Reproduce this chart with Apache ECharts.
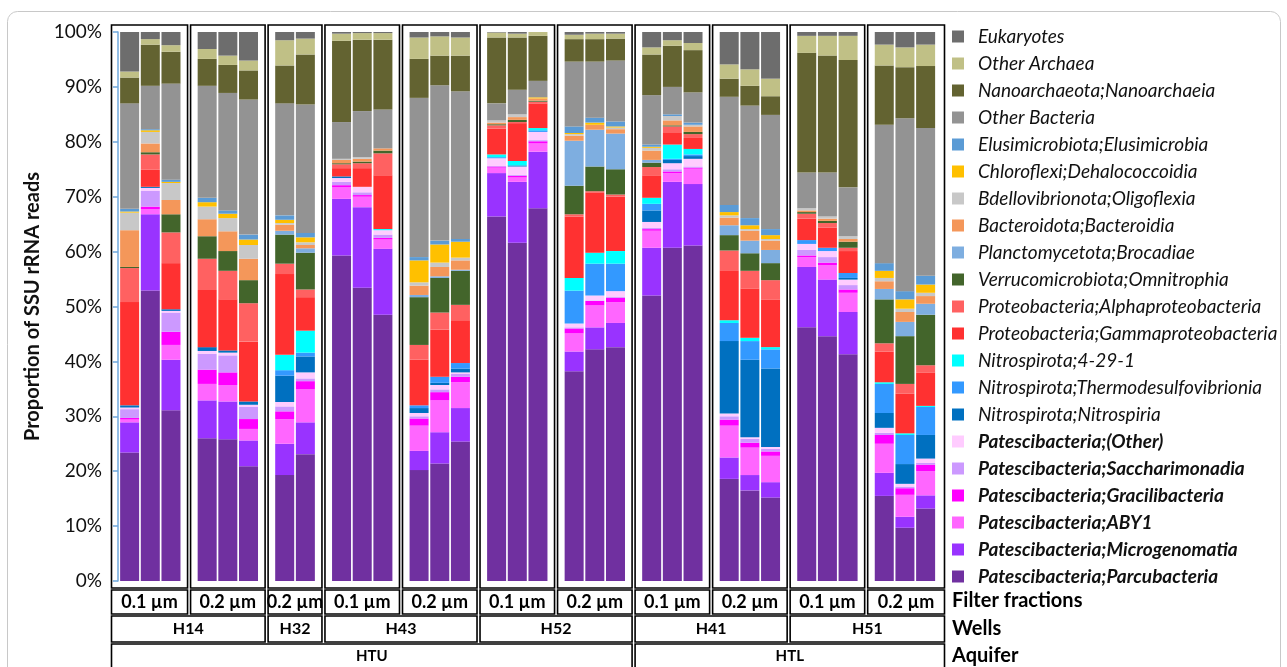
<!DOCTYPE html>
<html><head><meta charset="utf-8">
<script src="https://cdn.jsdelivr.net/npm/echarts@6/dist/echarts.min.js"></script>
<style>html,body{margin:0;padding:0;background:#fff}#c{width:1287px;height:667px}</style>
</head><body><div id="c"></div>
<script>
// ---- DATA (bars: H14 0.1 x3, H14 0.2 x3, H32 0.2 x2, H43 0.1 x3, H43 0.2 x3, H52 0.1 x3, H52 0.2 x3, H41 0.1 x3, H41 0.2 x3, H51 0.1 x3, H51 0.2 x3)
const filterLabels = ['0.1 µm','0.2 µm','0.2 µm','0.1 µm','0.2 µm','0.1 µm','0.2 µm','0.1 µm','0.2 µm','0.1 µm','0.2 µm'];
const groupSizes = [3,3,2,3,3,3,3,3,3,3,3];
const wells = ['H14','H32','H43','H52','H41','H51'];
const wellSpans = [2,1,2,2,2,2];
const aquifers = ['HTU','HTL'];
const aquiferSpans = [7,4];

const parcubacteria = [23.4,52.9,31.1, 26.0,25.8,20.9, 19.3,23.1, 59.3,53.4,48.5, 20.2,21.4,25.4, 66.4,61.6,67.9, 38.2,42.2,42.6, 52.0,60.7,61.1, 18.6,16.5,15.2, 46.2,44.6,41.3, 15.5,9.7,13.2];
const microgenomatia = [5.5,13.9,9.2, 6.9,6.9,4.7, 5.7,5.8, 10.3,14.7,12.0, 3.5,5.7,6.1, 7.9,11.1,10.3, 3.6,4.0,4.4, 8.7,12.0,11.2, 3.9,2.8,2.8, 11.0,10.3,7.7, 4.2,2.0,2.4];
const aby1 = [0.5,0.9,2.7, 3.0,3.0,2.1, 4.5,6.0, 2.1,1.9,1.7, 4.6,5.8,4.7, 1.0,0.8,1.5, 3.3,4.0,3.8, 3.1,1.6,2.8, 5.8,5.0,4.8, 1.8,2.6,3.5, 5.3,4.0,4.4];
const gracilibacteria = [0.3,0.5,2.4, 2.6,2.3,1.8, 1.4,1.5, 0.4,0.3,0.3, 1.3,1.5,1.0, 0.2,0.3,0.4, 0.9,0.8,0.8, 0.3,0.3,0.2, 1.1,0.9,0.8, 0.3,0.5,0.6, 1.6,1.2,1.2];
const saccharimonadia = [1.6,2.9,3.5, 2.9,3.1,2.2, 0.9,0.5, 0.6,0.5,0.6, 0.4,0.5,0.5, 0.1,0.2,0.2, 0.2,0.1,0.2, 0.2,0.4,0.2, 0.6,0.7,0.5, 1.0,1.0,0.8, 0.4,0.3,0.3];
const patesciOther = [0.3,0.5,0.3, 0.5,0.5,0.4, 0.8,1.1, 0.7,1.0,0.8, 0.6,0.8,0.3, 1.4,1.5,1.5, 0.7,0.9,1.0, 1.1,1.1,1.4, 0.5,0.3,0.3, 1.1,1.1,1.0, 0.9,0.5,0.8];
const nitrospiria = [0.4,0.2,0.3, 0.7,0.4,0.6, 4.8,2.9, 0.3,0,0, 0.9,0.4,0.7, 0,0.2,0, 0,0,0, 2.1,0.6,0.5, 13.2,14.1,14.3, 0,0,0.3, 2.7,3.6,4.3];
const thermodesulfovibrionia = [0,0,0, 0,0,0, 1.0,0.7, 0,0,0, 0.5,1.1,1.0, 0.2,0,0.3, 6.0,5.8,5.0, 1.2,0.2,0.3, 3.3,3.4,3.5, 0.7,0.6,0.9, 5.3,5.3,5.1];
const nitro4291 = [0,0,0, 0,0,0, 2.8,4.0, 0,0,0.2, 0,0,0, 0.5,0.8,0.4, 2.3,2.0,2.3, 1.1,2.6,1.0, 0.5,0.6,0.4, 0,0,0, 0.3,0.3,0.2];
const gammaproteobacteria = [18.8,3.1,8.4, 10.4,9.3,10.9, 14.7,6.1, 1.5,3.4,9.8, 8.3,8.6,7.8, 4.7,6.9,4.5, 11.2,10.9,9.9, 4.1,2.1,2.0, 9.1,9.0,8.7, 3.9,3.7,4.0, 5.6,7.2,6.1];
const alphaproteobacteria = [6.2,2.8,5.6, 5.7,5.2,7.0, 1.9,1.4, 0.7,0.9,4.0, 2.7,3.1,2.8, 0.6,0.2,0.3, 0.4,0.3,0.4, 1.5,1.2,0.7, 3.6,3.2,3.5, 0.9,0.8,0.6, 1.5,1.8,1.3];
const omnitrophia = [0.2,0.4,3.3, 4.1,3.6,4.2, 5.3,6.7, 0.2,0.3,0.5, 8.7,6.3,6.2, 0.2,0.4,0.2, 5.2,4.5,4.6, 0.8,0.2,0.4, 2.8,3.2,3.1, 0.3,0.4,1.1, 8.0,8.7,9.2];
const brocadiae = [0,0,0, 0,0,0, 0.7,0.8, 0,0,0, 0.4,0.3,0.2, 0,0,0, 8.2,6.7,6.5, 0.5,0,0, 1.8,2.3,2.4, 0,0,0, 1.9,2.6,2.0];
const bacteroidia = [6.7,1.6,2.6, 3.1,3.6,3.9, 1.1,0.6, 0.6,0.5,0.4, 1.7,1.7,1.7, 0.3,0.5,0.4, 0.9,0.9,0.8, 1.7,0.9,1.0, 1.4,1.8,1.7, 0.3,0.4,0.5, 1.4,1.8,1.4];
const oligoflexia = [3.2,2.1,3.1, 2.3,2.4,2.5, 0.3,0.5, 0.2,0.3,0, 0.6,0.8,0.5, 0.4,0.5,0, 0.3,0,0.3, 0.5,0.8,0.3, 0.4,0.3,0.3, 0.4,0.4,0.5, 0.6,0.6,0.6];
const dehalococcoidia = [0.2,0.3,0.2, 0.8,0.8,1.0, 0.6,0.9, 0,0,0, 4.0,3.3,2.9, 0,0,0.2, 0.2,0.4,0.2, 0.2,0,0, 0.6,0.7,0.7, 0,0,0, 1.3,1.7,1.5];
const elusimicrobia = [0.5,0.2,0.4, 0.8,0.6,0.9, 0.8,0.8, 0,0,0, 0.6,0.7,0.5, 0,0,0, 1.2,0.9,0.9, 0.4,0.3,0.4, 1.3,1.3,1.1, 0,0,0, 1.4,1.5,1.6];
const otherBacteria = [19.2,7.9,17.5, 20.4,21.4,24.6, 20.4,23.4, 6.7,8.4,7.1, 29.0,28.3,26.9, 3.1,4.5,3.0, 11.8,10.2,11.1, 9.0,5.0,5.5, 19.7,20.5,20.8, 6.5,8.0,8.9, 25.2,31.5,26.9];
const nanoarchaeia = [4.7,7.5,5.8, 4.9,5.1,5.3, 6.9,9.1, 14.8,13.0,12.7, 7.1,5.4,6.5, 12.0,9.5,8.2, 4.1,4.1,4.0, 7.4,7.5,7.7, 3.3,3.6,3.4, 21.8,21.3,23.2, 10.8,9.3,11.3];
const otherArchaea = [1.1,1.0,1.2, 1.8,1.7,1.8, 4.6,2.9, 1.3,1.2,1.2, 3.9,3.5,3.3, 0.9,0.7,0.7, 0.8,1.0,0.9, 1.3,1.0,1.3, 2.6,3.0,3.2, 3.1,3.6,4.4, 3.8,3.6,3.9];
const eukaryotes = [7.2,1.3,2.4, 3.1,4.3,5.2, 1.5,1.2, 0.3,0.2,0.2, 1.0,0.8,1.0, 0.1,0.3,0, 0.5,0.3,0.3, 2.8,1.5,2.0, 5.9,6.8,8.5, 0.7,0.7,0.7, 2.3,2.8,2.3];

// ---- series definitions (bottom to top)
const taxa = [
  ['Patescibacteria;Parcubacteria', parcubacteria, '#7030a0', true],
  ['Patescibacteria;Microgenomatia', microgenomatia, '#9933ff', true],
  ['Patescibacteria;ABY1', aby1, '#ff66ff', true],
  ['Patescibacteria;Gracilibacteria', gracilibacteria, '#ff00ff', true],
  ['Patescibacteria;Saccharimonadia', saccharimonadia, '#cc99ff', true],
  ['Patescibacteria;(Other)', patesciOther, '#ffccff', true],
  ['Nitrospirota;Nitrospiria', nitrospiria, '#0070c0', false],
  ['Nitrospirota;Thermodesulfovibrionia', thermodesulfovibrionia, '#3399ff', false],
  ['Nitrospirota;4-29-1', nitro4291, '#00ffff', false],
  ['Proteobacteria;Gammaproteobacteria', gammaproteobacteria, '#ff3131', false],
  ['Proteobacteria;Alphaproteobacteria', alphaproteobacteria, '#ff6161', false],
  ['Verrucomicrobiota;Omnitrophia', omnitrophia, '#43652b', false],
  ['Planctomycetota;Brocadiae', brocadiae, '#7eaee0', false],
  ['Bacteroidota;Bacteroidia', bacteroidia, '#f4975a', false],
  ['Bdellovibrionota;Oligoflexia', oligoflexia, '#c8c8c8', false],
  ['Chloroflexi;Dehalococcoidia', dehalococcoidia, '#ffc000', false],
  ['Elusimicrobiota;Elusimicrobia', elusimicrobia, '#5b9bd5', false],
  ['Other Bacteria', otherBacteria, '#939393', false],
  ['Nanoarchaeota;Nanoarchaeia', nanoarchaeia, '#636331', false],
  ['Other Archaea', otherArchaea, '#c0c086', false],
  ['Eukaryotes', eukaryotes, '#6d6d6d', false]
];

// fine category slots: 8 slots per bar pitch, 6 extra slots between filter groups, 4 leading slots
const SLOTS = 320, LEAD = 4, PER_BAR = 8, GROUP_GAP = 6;
const barSlots = [];
(function(){ let k = 0; groupSizes.forEach((n, g) => { for (let i = 0; i < n; i++) { barSlots.push(LEAD + PER_BAR * k + GROUP_GAP * g); k++; } }); })();
const slotNames = Array.from({ length: SLOTS }, (_, i) => 's' + i);

const FONT = 'Lato, "Open Sans", sans-serif';
const chart = echarts.init(document.getElementById('c'));

const series = taxa.map(t => {
  const d = new Array(SLOTS).fill(null);
  t[1].forEach((v, i) => { d[barSlots[i]] = v; });
  return {
    name: t[0], type: 'bar', stack: 'all', barWidth: 19,
    itemStyle: { color: t[2] },
    emphasis: { disabled: true },
    data: d
  };
});

chart.setOption({
  animation: false,
  textStyle: { fontFamily: FONT },
  grid: { left: 118, top: 32, width: 827, height: 549, containLabel: false },
  xAxis: { type: 'category', data: slotNames, show: false },
  yAxis: {
    type: 'value', min: 0, max: 100, interval: 10,
    name: 'Proportion of SSU rRNA reads', nameLocation: 'middle', nameGap: 72, nameRotate: 90,
    nameTextStyle: { fontSize: 20, fontWeight: 'bold', color: '#111', fontFamily: FONT },
    axisLine: { show: true, lineStyle: { color: '#6fa8dc', width: 1.5 } },
    axisTick: { show: true, length: 5, lineStyle: { color: '#6fa8dc', width: 1.5 } },
    splitLine: { show: false },
    axisLabel: { formatter: v => v + '%', fontSize: 19, color: '#111', margin: 16, fontFamily: FONT }
  },
  legend: {
    orient: 'vertical', left: 947, top: 22, itemWidth: 12, itemHeight: 12, itemGap: 8,
    icon: 'rect', selectedMode: false,
    textStyle: { fontSize: 19, fontStyle: 'italic', color: '#111', lineHeight: 19, padding: [0, 0, 0, 9], fontFamily: FONT },
    data: taxa.slice().reverse().map(t => t[3] ? { name: t[0], textStyle: { fontWeight: 'bold' } } : { name: t[0] })
  },
  series: series
});

// ---- frames & table under the plot, aligned to the x scale
(function(){
  const px = s => chart.convertToPixel({ xAxisIndex: 0 }, s);
  const first = [], last = [];
  let k = 0; groupSizes.forEach(n => { first.push(k); last.push(k + n - 1); k += n; });
  const bounds = [110];
  for (let g = 1; g < groupSizes.length; g++) bounds.push((px(barSlots[last[g-1]]) + px(barSlots[first[g]])) / 2);
  bounds.push(946);
  const els = [];
  const box = (x0, x1, y0, y1) => els.push({ type: 'rect', silent: true, shape: { x: x0 + 1.5, y: y0, width: x1 - x0 - 3, height: y1 - y0 }, style: { fill: 'none', stroke: '#000', lineWidth: 1.6 } });
  const label = (x0, x1, y, text, size) => els.push({ type: 'text', silent: true, style: { x: (x0 + x1) / 2, y: y, text: text, textAlign: 'center', textVerticalAlign: 'middle', font: 'bold ' + size + 'px ' + FONT, fill: '#000' } });
  for (let g = 0; g < groupSizes.length; g++) {
    box(bounds[g], bounds[g+1], 25, 588);
    box(bounds[g], bounds[g+1], 590, 614);
    label(bounds[g], bounds[g+1], 602, filterLabels[g], 18);
  }
  let gi = 0;
  wells.forEach((w, i) => { const a = bounds[gi], b = bounds[gi + wellSpans[i]]; box(a, b, 616, 642); label(a, b, 629, w, 16); gi += wellSpans[i]; });
  gi = 0;
  aquifers.forEach((w, i) => { const a = bounds[gi], b = bounds[gi + aquiferSpans[i]]; box(a, b, 644, 672); label(a, b, 656, w, 15); gi += aquiferSpans[i]; });
  const rowLabel = (y, t) => els.push({ type: 'text', silent: true, style: { x: 952, y: y, text: t, textAlign: 'left', textVerticalAlign: 'middle', font: 'bold 20px ' + FONT, fill: '#000' } });
  rowLabel(601, 'Filter fractions'); rowLabel(629, 'Wells'); rowLabel(656, 'Aquifer');
  els.push({ type: 'rect', silent: true, z: -1, shape: { x: 7.5, y: 11.5, width: 1273, height: 680, r: 10 }, style: { fill: 'none', stroke: '#c8c8c8', lineWidth: 1 } });
  chart.setOption({ graphic: els });
})();
</script></body></html>
